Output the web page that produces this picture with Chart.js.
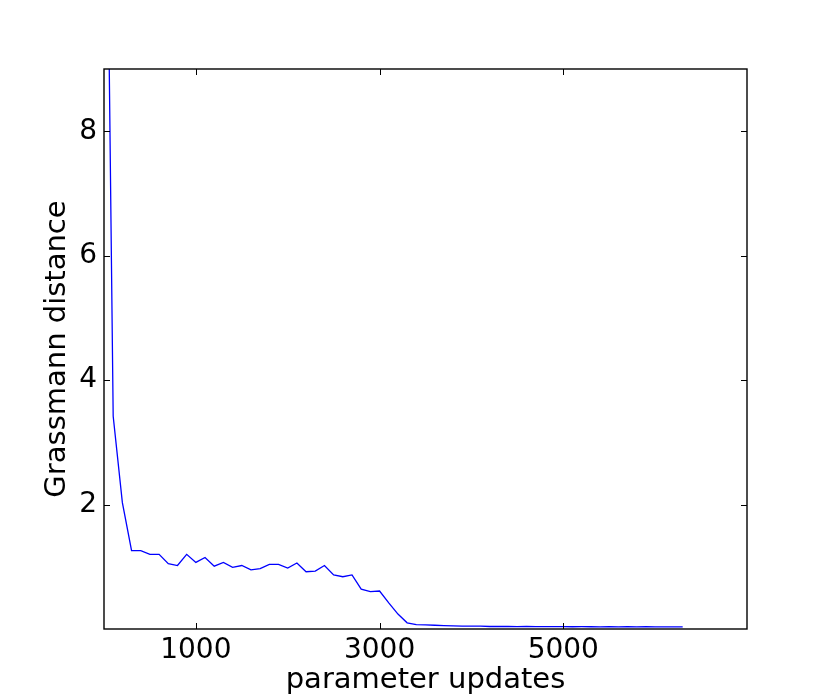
<!DOCTYPE html>
<html>
<head>
<meta charset="utf-8">
<script src="https://cdn.jsdelivr.net/npm/chart.js@4/dist/chart.umd.min.js"></script>
<style>
  html, body { margin: 0; padding: 0; background: #ffffff; }
  canvas { display: block; }
</style>
</head>
<body>
<canvas id="c" width="830" height="698" style="width:830px;height:698px"></canvas>
<script>
// parameter updates (x) and Grassmann distance (y)
const updates = [
  0, 100, 200, 300, 400, 500, 600, 700, 800, 900,
  1000, 1100, 1200, 1300, 1400, 1500, 1600, 1700, 1800, 1900,
  2000, 2100, 2200, 2300, 2400, 2500, 2600, 2700, 2800, 2900,
  3000, 3100, 3200, 3300, 3400, 3500, 3600, 3700, 3800, 3900,
  4000, 4100, 4200, 4300, 4400, 4500, 4600, 4700, 4800, 4900,
  5000, 5100, 5200, 5300, 5400, 5500, 5600, 5700, 5800, 5900,
  6000, 6100, 6200, 6300
];
const distance = [
  16.5, 3.42, 2.03, 1.26, 1.26, 1.20, 1.20, 1.05, 1.02, 1.20,
  1.07, 1.15, 1.01, 1.07, 0.99, 1.02, 0.95, 0.97, 1.04, 1.04,
  0.98, 1.06, 0.92, 0.93, 1.02, 0.87, 0.84, 0.87, 0.64, 0.60,
  0.61, 0.42, 0.24, 0.10, 0.07, 0.065, 0.06, 0.055, 0.05, 0.045,
  0.045, 0.045, 0.04, 0.04, 0.042, 0.038, 0.04, 0.037, 0.038, 0.037,
  0.037, 0.036, 0.037, 0.036, 0.035, 0.036, 0.035, 0.036, 0.035, 0.036,
  0.035, 0.035, 0.034, 0.034
];
const xTickValues = [1000, 3000, 5000];
const yTickValues = [2, 4, 6, 8];
const xLimits = [0, 7000];
const yLimits = [0, 9];

const points = updates.map((u, i) => ({ x: u, y: distance[i] }));

const FONT = "'DejaVu Sans', 'Liberation Sans', sans-serif";

const framePlugin = {
  id: 'frame',
  afterDraw(chart) {
    const { ctx, chartArea: a, scales } = chart;
    ctx.save();
    ctx.strokeStyle = '#000000';
    ctx.lineWidth = 1;
    const tl = 6;
    ctx.beginPath();
    xTickValues.forEach(v => {
      const px = Math.round(scales.x.getPixelForValue(v)) + 0.5;
      ctx.moveTo(px, a.bottom); ctx.lineTo(px, a.bottom - tl);
      ctx.moveTo(px, a.top); ctx.lineTo(px, a.top + tl);
    });
    yTickValues.forEach(v => {
      const py = Math.round(scales.y.getPixelForValue(v)) + 0.5;
      ctx.moveTo(a.left, py); ctx.lineTo(a.left + tl, py);
      ctx.moveTo(a.right, py); ctx.lineTo(a.right - tl, py);
    });
    ctx.stroke();
    ctx.lineWidth = 1.4;
    ctx.strokeRect(a.left, a.top, a.right - a.left, a.bottom - a.top);
    ctx.restore();
  }
};

new Chart(document.getElementById('c'), {
  type: 'line',
  data: {
    datasets: [{
      data: points,
      borderColor: '#0000ff',
      borderWidth: 1.3,
      pointRadius: 0,
      tension: 0,
      fill: false
    }]
  },
  options: {
    responsive: false,
    animation: false,
    devicePixelRatio: 1,
    layout: { padding: { top: 69, right: 83, left: 0, bottom: 0 } },
    plugins: { legend: { display: false }, tooltip: { enabled: false } },
    scales: {
      x: {
        type: 'linear',
        min: xLimits[0],
        max: xLimits[1],
        afterBuildTicks: s => { s.ticks = xTickValues.map(v => ({ value: v })); },
        afterFit: s => { s.height = 69; },
        grid: { display: false, drawTicks: false, tickLength: 0 },
        border: { display: false },
        ticks: {
          padding: 5,
          color: '#000000',
          font: { family: FONT, size: 28 },
          maxRotation: 0,
          autoSkip: false,
          callback: v => String(v)
        },
        title: {
          display: true,
          text: 'parameter updates',
          color: '#000000',
          font: { family: FONT, size: 29 },
          padding: { top: 0, bottom: 0 }
        }
      },
      y: {
        type: 'linear',
        min: yLimits[0],
        max: yLimits[1],
        afterBuildTicks: s => { s.ticks = yTickValues.map(v => ({ value: v })); },
        afterFit: s => { s.width = 104; },
        grid: { display: false, drawTicks: false, tickLength: 0 },
        border: { display: false },
        ticks: {
          padding: 7,
          color: '#000000',
          font: { family: FONT, size: 28 },
          autoSkip: false,
          callback: v => String(v)
        },
        title: {
          display: true,
          text: 'Grassmann distance',
          color: '#000000',
          font: { family: FONT, size: 29 },
          padding: { top: 40, bottom: 0 }
        }
      }
    }
  },
  plugins: [framePlugin]
});
</script>
</body>
</html>
